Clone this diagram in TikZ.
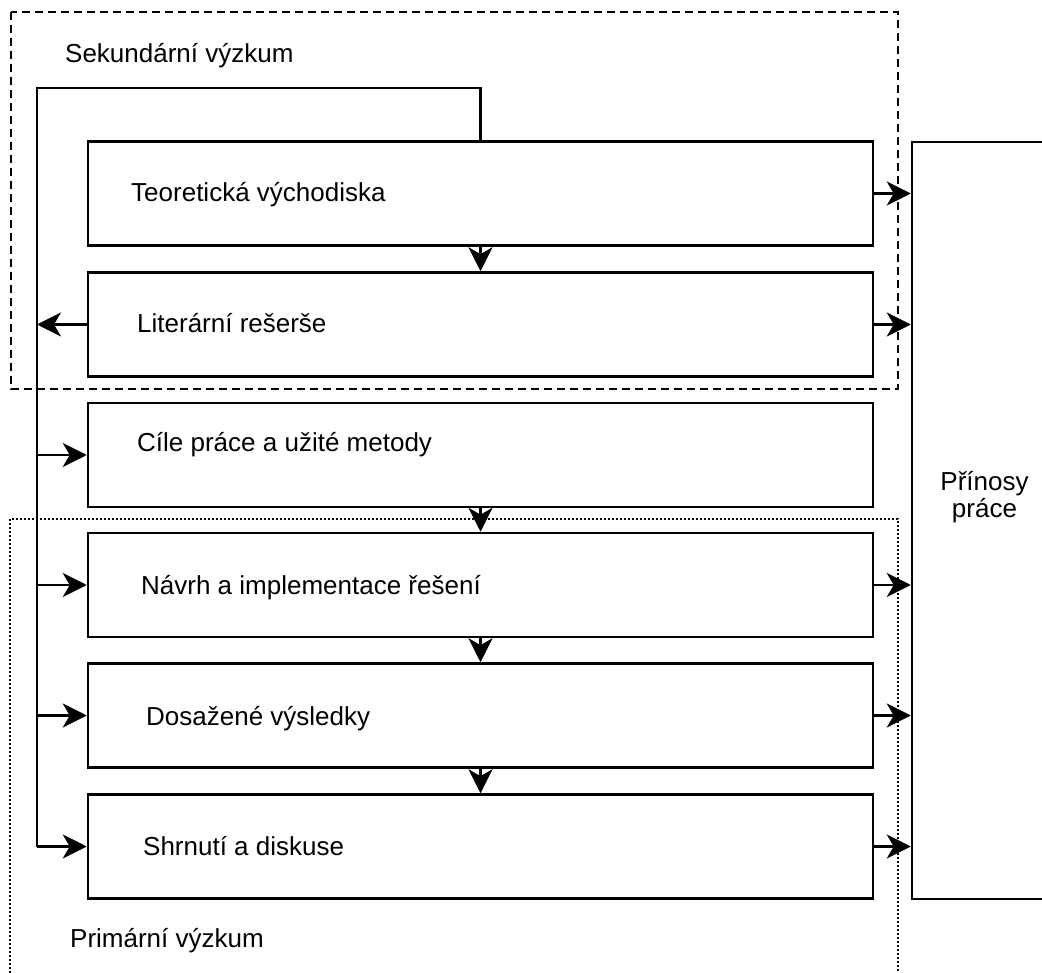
\documentclass[tikz,border=0pt]{standalone}
\usepackage{fontspec}
\setmainfont{Liberation Sans}
\usetikzlibrary{arrows.meta}
\begin{document}
\begin{tikzpicture}[x=1pt,y=-1pt,
  stagebox/.style={draw=black,line width=2.5pt,minimum width=785pt,minimum height=104pt,inner sep=0pt},
  lbl/.style={anchor=base west,inner sep=0pt,font=\fontsize{26}{30}\selectfont},
  arr/.style={line width=2.5pt,-{Stealth[length=24pt,width=24pt,inset=7pt]}},
  conn/.style={line width=2.5pt}]
\useasboundingbox (0,0) rectangle (1042,973);
% group frames
\draw[line width=2.5pt,dash pattern=on 8pt off 5pt] (11,12) rectangle (898,389);
\draw[line width=2.5pt,dash pattern=on 2pt off 2pt] (10,519) rectangle (898,995);
% stage boxes
\node[stagebox] (b1) at (480.5,193.5) {};
\node[stagebox] (b2) at (480.5,324.5) {};
\node[stagebox] (b3) at (480.5,455) {};
\node[stagebox] (b4) at (480.5,585) {};
\node[stagebox] (b5) at (480.5,715.5) {};
\node[stagebox] (b6) at (480.5,846.5) {};
\node[draw=black,line width=2.5pt,minimum width=150pt,minimum height=757pt,inner sep=0pt] (P) at (987,520.5) {};
% labels
\node[lbl] (t1) at (131,202) {Teoretická východiska};
\node[lbl] (t2) at (137,333) {Literární rešerše};
\node[lbl] (t3) at (137,452) {Cíle práce a užité metody};
\node[lbl] (t4) at (141,594) {Návrh a implementace řešení};
\node[lbl] (t5) at (146,725) {Dosažené výsledky};
\node[lbl] (t6) at (143,855) {Shrnutí a diskuse};
\node[lbl] (g1) at (65,63) {Sekundární výzkum};
\node[lbl] (g2) at (70,947) {Primární výzkum};
\node[lbl,anchor=base] (p1) at (984.5,490) {Přínosy};
\node[lbl,anchor=base] (p2) at (984.5,518) {práce};
% spine
\coordinate (sp) at (37,88);
\draw[conn] (b1.north) |- (sp) -- (sp |- b6.west);
\draw[arr] (b2.west) -- (b2.west -| sp);
\draw[arr] (b3.west -| sp) -- (b3.west);
\draw[arr] (b4.west -| sp) -- (b4.west);
\draw[arr] (b5.west -| sp) -- (b5.west);
\draw[arr] (b6.west -| sp) -- (b6.west);
% down arrows
\draw[arr] (b1.south) -- (b2.north);
\draw[arr] (b3.south) -- (b4.north);
\draw[arr] (b4.south) -- (b5.north);
\draw[arr] (b5.south) -- (b6.north);
% right arrows
\draw[arr] (b1.east) -- (b1.east -| P.west);
\draw[arr] (b2.east) -- (b2.east -| P.west);
\draw[arr] (b4.east) -- (b4.east -| P.west);
\draw[arr] (b5.east) -- (b5.east -| P.west);
\draw[arr] (b6.east) -- (b6.east -| P.west);
\end{tikzpicture}
\end{document}
